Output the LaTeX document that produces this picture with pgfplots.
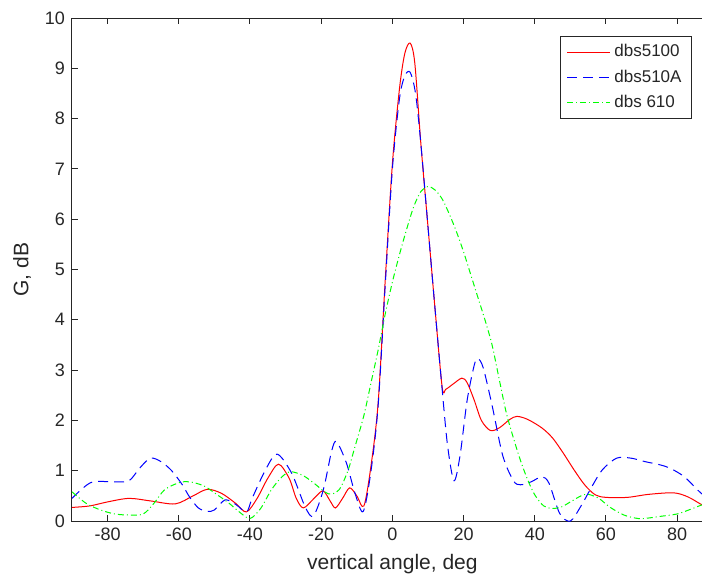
\documentclass[border=0pt]{standalone}
\usepackage{pgfplots}
\pgfplotsset{compat=1.18}
\usepackage{fontspec}
\setmainfont{Liberation Sans}
\definecolor{axgray}{gray}{0.15}
\definecolor{mred}{rgb}{1,0,0}
\definecolor{mblue}{rgb}{0,0,1}
\definecolor{mgreen}{rgb}{0,1,0}
\begin{document}
\begin{tikzpicture}
\begin{axis}[
  at={(0,0)}, anchor=south west,
  scale only axis, width=320.4pt, height=251.5pt,
  xmin=-90, xmax=90, ymin=0, ymax=10,
  xtick={-80,-60,-40,-20,0,20,40,60,80},
  xticklabels={-80,-60,-40,-20,0,20,40,60,80},
  ytick={0,1,2,3,4,5,6,7,8,9,10},
  yticklabels={0,1,2,3,4,5,6,7,8,9,10},
  tick align=inside, major tick length=3pt,
  axis line style={axgray, line width=0.5pt},
  every tick/.style={axgray, line width=0.5pt},
  tick label style={font=\fontsize{9}{10}\selectfont, text=axgray},
  label style={font=\fontsize{10.5}{12}\selectfont, text=axgray},
  xlabel={vertical angle, deg},
  ylabel={G, dB},
  legend style={at={(0.9676,0.9642)}, anchor=north east, draw=axgray,
    font=\fontsize{8.5}{10}\selectfont, text=axgray, cells={anchor=west},
    row sep=1pt, inner xsep=3pt, inner ysep=2pt, line width=0.5pt},
  legend image code/.code={\draw[#1] (0cm,0cm) -- (0.75cm,0cm);},
]
\addplot[mred, line width=0.5pt, smooth, tension=0.5] coordinates {
(-90,0.27) (-85,0.30) (-80,0.38) (-74,0.45) (-68,0.40) (-61,0.34) (-56,0.50)
(-52,0.63) (-48,0.55) (-44,0.35) (-41,0.18) (-38,0.45) (-35,0.85) (-32,1.13)
(-29,0.85) (-27,0.45) (-25,0.26) (-22,0.45) (-19.5,0.60) (-17.5,0.40) (-16,0.26)
(-14,0.45) (-12,0.66) (-10,0.50) (-8,0.30) (-6,1.1) (-4,2.35) (-2,4.8) (0,7.1)
(2,8.6) (3.5,9.3) (5,9.5) (6.3,9.1) (8,7.5) (10,5.85) (12,4.2) (14,2.65)
(15,2.62) (17,2.72) (19.5,2.84) (21,2.75) (23,2.4) (25,2.0) (27.5,1.80) (30,1.85)
(33,2.02) (35,2.08) (38,2.02) (42,1.85) (45,1.65) (48,1.35) (51,1.02) (54,0.72)
(57,0.52) (60,0.47) (66,0.47) (72,0.53) (79,0.56) (83,0.48) (87,0.32) (90,0.22)
};
\addlegendentry{dbs5100}
\addplot[mblue, line width=0.5pt, dash pattern=on 5pt off 3pt, smooth, tension=0.5] coordinates {
(-90,0.45) (-87,0.65) (-84,0.78) (-78,0.78) (-74,0.80) (-71,1.05) (-68,1.25)
(-65,1.18) (-62,1.0) (-59,0.72) (-57,0.48) (-54.5,0.26) (-52,0.19) (-50,0.22)
(-47,0.42) (-44,0.33) (-41,0.18) (-39.4,0.45) (-35.7,1.01) (-32.4,1.33) (-28.3,0.95)
(-24.5,0.28) (-22.2,0.10) (-19.4,0.62) (-17.1,1.38) (-15.7,1.58) (-12.9,1.15)
(-10.5,0.55) (-8.2,0.19) (-6,1.0) (-4,2.3) (-2,4.7) (0,7.0) (2,8.4) (3.5,8.85)
(5,8.92) (6.5,8.5) (8,7.5) (10,5.85) (12,4.2) (14,2.6) (15.5,1.5) (17.3,0.80)
(19,1.3) (21,2.4) (23,3.1) (24,3.23) (25.5,3.05) (28,2.3) (31,1.3) (34,0.80)
(36,0.72) (39,0.78) (42,0.88) (44,0.75) (47,0.15) (50,0.0) (53,0.3) (56,0.68)
(59,1.02) (63,1.25) (67,1.25) (71,1.18) (75,1.12) (78,1.05) (82,0.88) (86,0.6)
(90,0.35)
};
\addlegendentry{dbs510A}
\addplot[mgreen, line width=0.5pt, dash pattern=on 3pt off 1.5pt on 0.5pt off 1.5pt, smooth, tension=0.5] coordinates {
(-90,0.58) (-86,0.35) (-82,0.22) (-78,0.14) (-74,0.12) (-70,0.14) (-67,0.35)
(-64,0.62) (-60,0.76) (-57,0.78) (-53,0.70) (-50,0.56) (-46,0.36) (-43,0.18)
(-40,0.05) (-37,0.25) (-34,0.62) (-31,0.88) (-28.5,0.98) (-25,0.90) (-22,0.75)
(-18,0.54) (-15,0.62) (-12.5,1.0) (-10.5,1.48) (-8,2.1) (-6,2.75) (-4,3.4)
(-2,4.12) (0,4.75) (2,5.3) (4,5.8) (6,6.25) (8,6.55) (10,6.65) (12,6.58) (14,6.4)
(16,6.1) (18,5.75) (20,5.35) (22,4.9) (24,4.45) (26,4.0) (28,3.5) (30,2.82)
(32,2.15) (34,1.65) (36,1.2) (38,0.82) (40,0.52) (42.5,0.30) (45,0.25)
(47.5,0.28) (50,0.38) (53,0.5) (55,0.53) (58,0.45) (61,0.28) (65,0.12) (69,0.05)
(72,0.06) (75,0.09) (80,0.14) (84,0.24) (88,0.35) (90,0.40)
};
\addlegendentry{dbs 610}
\end{axis}
\pgfresetboundingbox
\path[use as bounding box] (-36pt,-32.5pt) rectangle (315pt,260.5pt);
\end{tikzpicture}
\end{document}
